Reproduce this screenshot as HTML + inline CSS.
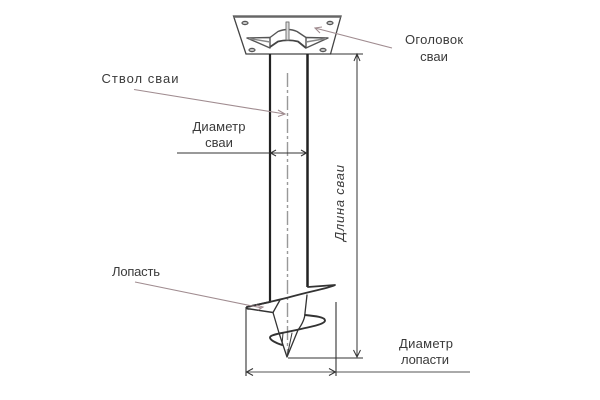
<!DOCTYPE html>
<html><head><meta charset="utf-8"><style>
html,body{margin:0;padding:0;background:#fff}
svg{display:block}
text{font-family:"Liberation Sans",sans-serif;font-size:13px;fill:#3a3a3a;text-anchor:middle}
</style></head><body>
<svg width="600" height="400" viewBox="0 0 600 400" xmlns="http://www.w3.org/2000/svg" fill="none">
<!-- plate -->
<path d="M233.500 16H341L330.500 54H246Z" stroke="#444" stroke-width="1.300" fill="#fff"/>
<path d="M233.500 16.800H341" stroke="#666" stroke-width="2"/>
<g fill="#ccc" stroke="#555" stroke-width="1.200">
<ellipse cx="245" cy="23" rx="3" ry="1.600"/><ellipse cx="330" cy="23" rx="3" ry="1.600"/>
<ellipse cx="252" cy="50" rx="3" ry="1.600"/><ellipse cx="323" cy="50" rx="3" ry="1.600"/>
</g>
<!-- head gussets -->
<g stroke="#555" stroke-width="1.400" stroke-linejoin="round">
<path d="M247 38L270 37.500L270 48Z" fill="#fff"/>
<path d="M328 38L306 37.500L306 48Z" fill="#fff"/>
<path d="M249 38.500L270 42" stroke="#888"/>
<path d="M326 38.500L306 42" stroke="#888"/>
<path d="M270 37.500L278 31.500Q288 27.500 297 31.500L306 37.500"/>
<path d="M270 47L278 41.500Q288 39 298 41.500L306 48" stroke-width="1.800" stroke="#444"/>
<path d="M286 22H289V40H286Z" fill="#ddd" stroke="#777" stroke-width="1"/>
</g>
<!-- shaft -->
<path d="M270 54V302" stroke="#222" stroke-width="2.200"/>
<path d="M307.500 54V287" stroke="#222" stroke-width="2.500"/>
<path d="M287.500 73V355" stroke="#999" stroke-width="1.400" stroke-dasharray="14 3 3 3"/>
<!-- helix -->
<g stroke="#333" stroke-linejoin="round" stroke-linecap="round">
<path d="M308 287L335 285C330 288 315 290 290 297C275 301 260 304 247 307" stroke-width="1.800"/>
<path d="M247 307C246 309 248 309 250 309L273 312.500" stroke-width="1.500"/>
<path d="M247 307L270 302" stroke-width="1.800"/>
<path d="M280 300L273 312.500L279 333L287 357L298 330C303 323 305 318 305 313L307 295" stroke-width="1.300"/>
<path d="M305 315C315 316 325 317 325 320.500C325 324 315 326 287 332C277 334 270 335 270 337.500C270 340 276 343 282 345" stroke-width="1.900"/>
<path d="M282 345L283 333M292 333L287 357" stroke-width="1"/>
</g>
<!-- dimensions -->
<g stroke="#333" stroke-width="1">
<path d="M357 54V357M353.500 350L357 357L360.500 350"/>
<path d="M330 54H363M354 61L357 54L360 61"/>
<path d="M288 358H363"/>
<path d="M246 307V376M336 302V376" stroke-width="1.100"/>
<path d="M246 372H470" stroke="#555"/>
<path d="M253 368.500L246.500 372L253 375.500M329 368.500L335.500 372L329 375.500"/>
<path d="M177 153H307M276 150L270.500 153L276 156M301 150L306.500 153L301 156"/>
</g>
<!-- leaders -->
<g stroke="#a08c90" stroke-width="1.100">
<path d="M134 89.500L285 114M278 110L285 114L278 116.500"/>
<path d="M392 48L315 28M322 27L315 28L320 33"/>
<path d="M135 282L262 308M256 305L263 307L258 310"/>
</g>
<!-- labels -->
<text x="140" y="83" textLength="77" lengthAdjust="spacing">Ствол сваи</text>
<text x="219" y="131" textLength="53" lengthAdjust="spacing">Диаметр</text>
<text x="219" y="147">сваи</text>
<text x="434" y="44" textLength="58" lengthAdjust="spacing">Оголовок</text>
<text x="434" y="61">сваи</text>
<text x="136" y="276" textLength="48" lengthAdjust="spacing">Лопасть</text>
<text x="426" y="348" textLength="54" lengthAdjust="spacing">Диаметр</text>
<text x="425" y="364" textLength="48" lengthAdjust="spacing">лопасти</text>
<text transform="translate(344,203) rotate(-90)" textLength="76" lengthAdjust="spacing" style="font-style:italic">Длина сваи</text>
</svg>
</body></html>
